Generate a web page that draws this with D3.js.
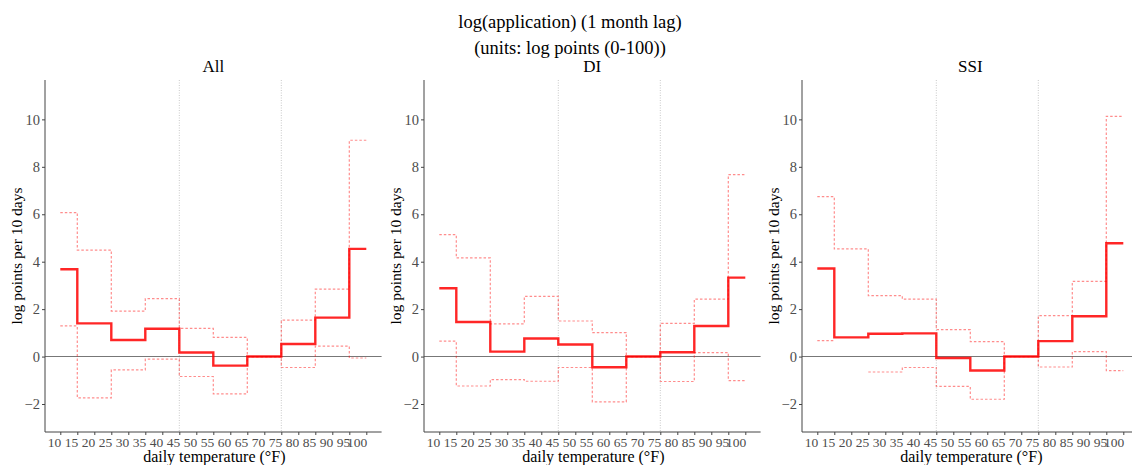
<!DOCTYPE html>
<html>
<head>
<meta charset="utf-8">
<script src="https://cdn.jsdelivr.net/npm/d3@7"></script>
<style>
  html, body { margin: 0; padding: 0; background: #fff; }
  svg { display: block; font-family: "Liberation Serif", "Times New Roman", serif; }
</style>
</head>
<body>
<svg id="chart" width="1132" height="465"></svg>
<script>
// ---- data ----
const titleLines = ["log(application) (1 month lag)", "(units: log points (0-100))"];
const panelNames = ["All", "DI", "SSI"];
const binEdges = [10, 15, 25, 35, 45, 55, 65, 75, 85, 95, 100];
const xTickValues = [10, 15, 20, 25, 30, 35, 40, 45, 50, 55, 60, 65, 70, 75, 80, 85, 90, 95, 100];
const yTickValues = [-2, 0, 2, 4, 6, 8, 10];
const refTemps = [45, 75];

const allEst   = [3.68, 1.40, 0.70, 1.17, 0.17, -0.38, 0, 0.53, 1.64, 4.54];
const allUpper = [6.07, 4.49, 1.92, 2.44, 1.19, 0.81, 0, 1.54, 2.84, 9.12];
const allLower = [1.29, -1.74, -0.56, -0.11, -0.84, -1.57, 0, -0.46, 0.44, -0.06];

const diEst    = [2.88, 1.46, 0.21, 0.76, 0.51, -0.45, 0, 0.18, 1.29, 3.33];
const diUpper  = [5.14, 4.16, 1.38, 2.54, 1.50, 1.01, 0, 1.40, 2.42, 7.67];
const diLower  = [0.65, -1.24, -0.97, -1.04, -0.46, -1.91, 0, -1.05, 0.17, -1.01];

const ssiEst   = [3.71, 0.81, 0.96, 0.98, -0.06, -0.59, 0, 0.65, 1.70, 4.78];
const ssiUpper = [6.74, 4.54, 2.57, 2.42, 1.14, 0.63, 0, 1.73, 3.17, 10.13];
const ssiLower = [0.67, null, -0.65, -0.46, -1.26, -1.80, 0, -0.44, 0.21, -0.59];

const panelData = [
  { est: allEst, upper: allUpper, lower: allLower },
  { est: diEst,  upper: diUpper,  lower: diLower },
  { est: ssiEst, upper: ssiUpper, lower: ssiLower }
];

// ---- layout ----
const svg = d3.select("#chart");
const panelLeft = [45, 424, 802];
const panelWidth = 336.6;
const plotTop = 80, plotBottom = 432;
const xDomain = [5.5, 104.5];
const yDomain = [-3.18, 11.66];
const y = d3.scaleLinear().domain(yDomain).range([plotBottom, plotTop]);

svg.selectAll("text.title").data(titleLines).enter().append("text")
  .attr("class", "title")
  .attr("x", 570).attr("y", (d, i) => 28 + i * 26)
  .attr("text-anchor", "middle").attr("font-size", 18.5).attr("fill", "#000")
  .text(d => d);

function binPoints(vals) {
  const pts = [];
  vals.forEach((v, i) => {
    pts.push({ x: binEdges[i], v: v });
    pts.push({ x: binEdges[i + 1], v: v });
  });
  return pts;
}

panelNames.forEach((name, pi) => {
  const x0 = panelLeft[pi];
  const x = d3.scaleLinear().domain(xDomain).range([x0, x0 + panelWidth]);
  const g = svg.append("g");
  const d = panelData[pi];

  g.append("text").attr("x", x0 + panelWidth / 2).attr("y", 72)
    .attr("text-anchor", "middle").attr("font-size", 17).attr("fill", "#000").text(name);

  g.selectAll("line.ref").data(refTemps).enter().append("line")
    .attr("class", "ref")
    .attr("x1", t => x(t)).attr("x2", t => x(t))
    .attr("y1", plotTop).attr("y2", plotBottom)
    .attr("stroke", "#c8c8c8").attr("stroke-width", 1).attr("stroke-dasharray", "1,1.5");

  g.append("line").attr("x1", x0).attr("x2", x0 + panelWidth)
    .attr("y1", y(0)).attr("y2", y(0))
    .attr("stroke", "#777").attr("stroke-width", 1.1);

  const line = d3.line().defined(p => p.v !== null).x(p => x(p.x)).y(p => y(p.v));

  [d.upper, d.lower].forEach(arr => {
    g.append("path").attr("d", line(binPoints(arr)))
      .attr("fill", "none").attr("stroke", "#ff0000").attr("stroke-opacity", 0.45)
      .attr("stroke-width", 1.2).attr("stroke-dasharray", "2.5,2");
  });

  g.append("path").attr("d", line(binPoints(d.est)))
    .attr("fill", "none").attr("stroke", "#ff0000").attr("stroke-opacity", 0.85)
    .attr("stroke-width", 2.4);

  const yAxis = d3.axisLeft(y).tickValues(yTickValues).tickSize(3).tickPadding(2).tickFormat(d3.format("d"));
  const ya = g.append("g").attr("transform", `translate(${x0},0)`).call(yAxis);
  ya.select(".domain").attr("stroke", "#444").attr("d", `M0,${plotTop}V${plotBottom}`);
  ya.selectAll(".tick line").attr("stroke", "#444");
  ya.selectAll(".tick text").attr("font-size", 14.5).attr("fill", "#4d4d4d")
    .attr("font-family", "Liberation Serif, Times New Roman, serif");

  const xAxis = d3.axisBottom(x).tickValues(xTickValues).tickSize(3).tickPadding(2).tickFormat(d3.format("d"));
  const xa = g.append("g").attr("transform", `translate(0,${plotBottom})`).call(xAxis);
  xa.select(".domain").attr("stroke", "#444").attr("d", `M${x0},0H${x0 + panelWidth}`);
  xa.selectAll(".tick line").attr("stroke", "#444");
  xa.selectAll(".tick text").attr("font-size", 13.5).attr("fill", "#4d4d4d")
    .attr("text-anchor", "end").attr("dx", "0.5")
    .attr("font-family", "Liberation Serif, Times New Roman, serif");

  g.append("text").attr("x", x0 + panelWidth / 2 + 1).attr("y", 462)
    .attr("text-anchor", "middle").attr("font-size", 16).attr("fill", "#000")
    .text("daily temperature (°F)");
  g.append("text")
    .attr("transform", `translate(${x0 - 23},${(plotTop + plotBottom) / 2}) rotate(-90)`)
    .attr("text-anchor", "middle").attr("font-size", 15.5).attr("fill", "#000")
    .text("log points per 10 days");
});
</script>
</body>
</html>
